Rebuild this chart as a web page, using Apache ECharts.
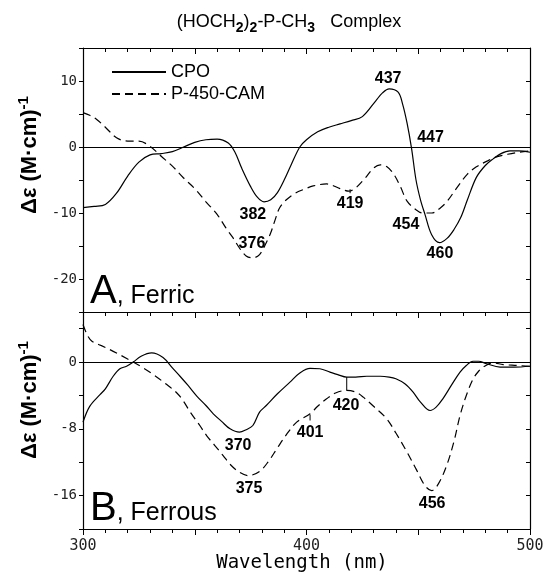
<html>
<head>
<title>CD spectra</title>
<script src="https://cdn.jsdelivr.net/npm/echarts@6/dist/echarts.min.js"></script>
<style>
body{margin:0;background:#fff;}
#chart{width:547px;height:577px;}
</style>
</head>
<body>
<div id="chart"></div>
<script>
// A, Ferric - CPO (solid)
var wlA_cpo = [300,305,310,315,320,325,330,335,340,345,350,355,360,365,368,371,375,378,381,384,387,390,393,397,400,405,410,415,420,425,431,434,437,441,443,445,447,449,451,453,456,459.5,463,466,469,472,476,480,483.5,487,491,495,500];
var deA_cpo = [-9.2,-9.0,-8.7,-7.0,-4.4,-2.3,-1.2,-1.0,-0.7,0,0.7,1.1,1.2,0.6,-0.8,-3.2,-6.0,-7.6,-8.3,-8.0,-6.9,-5.0,-2.8,0,1.1,2.3,3.0,3.5,4.0,4.6,7.0,8.2,8.8,8.3,6.5,3.6,-0.2,-5.0,-8.0,-10.2,-13.3,-14.5,-13.8,-12.5,-10.7,-8.0,-4.6,-2.8,-1.8,-1.0,-0.6,-0.6,-0.8];
// A, Ferric - P-450-CAM (dashed)
var wlA_p450 = [300,303,306,310,315,320,325,330,335,340,345,350,355,360,364,367,370,373,376,379,382,384,386,388,391,395,399,403,409,415,419,422,426,430,433,436,439,442,445,449,452,456,460,463,467,472,476,481,485,490,495,500];
var deA_p450 = [5.2,4.8,4.2,3.0,1.4,0.9,0.9,0.1,-1.4,-2.9,-4.7,-6.3,-8.3,-10.2,-12.3,-13.7,-15.3,-16.5,-16.8,-16.3,-14.5,-13.0,-11.0,-9.2,-8.0,-7.0,-6.4,-5.9,-5.6,-6.3,-6.7,-6.2,-4.8,-3.2,-2.7,-3.0,-4.1,-6.0,-8.2,-9.5,-10.0,-10.0,-9.2,-8.2,-6.3,-4.1,-3.0,-2.1,-1.5,-1.1,-0.8,-0.6];
// B, Ferrous - CPO (solid)
var wlB_cpo = [300,303,307.6,310,313.5,316.5,319.5,322.5,326,330.7,335.8,340,343.4,347,351,355,358.3,362,365.8,370,373,376,379,382,387,392.6,397,401.6,406,410.5,414,418,422,427,433,437,440,444,447.7,451,455.3,458,461,465,468.7,471.5,474.5,477,480.6,486.6,493,500];
var deB_cpo = [-7.2,-5.3,-3.9,-3.2,-1.7,-0.8,-0.5,0,0.7,1.1,0.55,-0.7,-1.7,-2.8,-4.1,-5.2,-6.2,-7.1,-8.0,-8.4,-8.1,-7.6,-6.0,-5.2,-3.8,-2.4,-1.3,-0.75,-0.8,-1.2,-1.5,-1.8,-1.8,-1.7,-1.7,-1.8,-2.0,-2.6,-3.6,-4.8,-5.8,-5.4,-4.4,-2.7,-1.2,-0.4,0.1,0.1,-0.2,-0.6,-0.6,-0.5];
// B, Ferrous - P-450-CAM (dashed)
var wlB_p450 = [300,302,304,308,312,317,322.5,327,331.5,337,342,345,348,352,355.3,359,362.7,366,370,374,379,383,386.7,391,395.6,401.6,405,409,413,418,422,425.4,430,435.9,440,444.8,449,453,456,459,462.7,466,468.7,471.5,474.6,477,479,483.5,488,494,500];
var deB_p450 = [4.5,3.2,2.5,2.0,1.5,0.8,0,-0.7,-1.5,-2.6,-3.7,-4.7,-6.0,-7.5,-8.8,-10.0,-11.2,-12.3,-13.2,-13.6,-13.1,-11.9,-10.4,-8.7,-7.2,-6.2,-5.3,-4.4,-3.7,-3.4,-3.6,-4.2,-5.3,-6.8,-8.5,-10.7,-12.8,-14.8,-15.4,-14.6,-12.4,-9.5,-6.4,-4.0,-2.0,-1.1,-0.6,-0.1,-0.3,-0.4,-0.5];

// peak labels [wavelength, value, text]
var notesA = [[436.5,10.3,'437'],[455.5,1.4,'447'],[419.5,-8.6,'419'],[444.5,-11.7,'454'],[459.7,-16.2,'460'],[376,-10.2,'382'],[375.6,-14.7,'376']];
var notesB = [[369.4,-10.0,'370'],[374.3,-15.2,'375'],[401.6,-8.5,'401'],[417.7,-5.2,'420'],[456.2,-17.0,'456']];
// leader ticks [wavelength, from, to]
var leadA = [[419.5,-6.4,-7.0]];
var leadB = [[418,-1.8,-3.4],[401.6,-6.3,-7.0]];

var xTicks = [300, 400, 500];

function zip(xs, ys) {
  return xs.map(function (x, i) { return [x, ys[i]]; });
}

var chart = echarts.init(document.getElementById('chart'));
var mono = 'DejaVu Sans Mono';
var sans = 'Liberation Sans';
var ink = '#000';

function xAx(grid, pos, opt) {
  return Object.assign({
    type: 'value', gridIndex: grid, position: pos, min: 300, max: 500, interval: 50,
    axisLine: {show: true, onZero: false, lineStyle: {color: ink, width: 1.2}},
    axisTick: {show: true, inside: true, length: 6, lineStyle: {color: ink}},
    minorTick: {show: true, splitNumber: 5, length: 4, lineStyle: {color: ink}},
    axisLabel: {show: false},
    splitLine: {show: false}
  }, opt || {});
}
function yAx(grid, pos, min, max, step, every, opt) {
  return Object.assign({
    type: 'value', gridIndex: grid, position: pos, min: min, max: max, interval: step,
    axisLine: {show: true, onZero: false, lineStyle: {color: ink, width: 1.2}},
    axisTick: {show: true, inside: pos == 'right', length: 4, lineStyle: {color: ink}},
    axisLabel: {show: pos == 'left', margin: 6, color: '#222', fontFamily: mono, fontSize: 14,
      formatter: function (v) { return v % every === 0 ? String(v) : ''; }},
    splitLine: {show: false}
  }, opt || {});
}

function curve(name, data, xi, yi, dashed) {
  return {
    name: name, type: 'line', data: data, xAxisIndex: xi, yAxisIndex: yi,
    smooth: 0.35, symbol: 'none', silent: true,
    itemStyle: {color: ink},
    lineStyle: {color: ink, width: 1.2, type: dashed ? [8, 5] : 'solid'}
  };
}
function notes(list, xi, yi) {
  return {
    type: 'scatter', data: list, xAxisIndex: xi, yAxisIndex: yi, symbolSize: 0,
    itemStyle: {color: ink, opacity: 1}, silent: true,
    label: {show: true, position: 'inside', color: ink, fontFamily: sans, fontWeight: 'bold', fontSize: 16,
      formatter: function (p) { return p.data[2]; }}
  };
}
function leaders(list, xi, yi) {
  return list.map(function (l) {
    return {type: 'line', data: [[l[0], l[1]], [l[0], l[2]]], xAxisIndex: xi, yAxisIndex: yi,
      symbol: 'none', silent: true, lineStyle: {color: ink, width: 1}};
  });
}
var zeroLine = {silent: true, symbol: 'none', label: {show: false},
  lineStyle: {color: ink, width: 1.2, type: 'solid'}, data: [{yAxis: 0}]};

var sA = curve('CPO', zip(wlA_cpo, deA_cpo), 0, 0, false);
sA.markLine = zeroLine;
var sB = curve('CPO', zip(wlB_cpo, deB_cpo), 2, 2, false);
sB.markLine = zeroLine;

var yLabel = {
  text: 'Δε (M·cm){p|-1}', textAlign: 'center', textVerticalAlign: 'middle',
  fontFamily: sans, fontSize: 22, fontWeight: 'bold', fill: ink,
  rich: {p: {fontFamily: sans, fontSize: 15, fontWeight: 'bold', fill: ink, padding: [0, 0, 13, 0]}}
};

var option = {
  backgroundColor: '#fff',
  animation: false,
  grid: [
    {left: 83, right: 17, top: 48, height: 264},
    {left: 83, right: 17, top: 312, height: 217}
  ],
  xAxis: [
    xAx(0, 'bottom', {axisTick: {show: false}, minorTick: {show: false}}),
    xAx(0, 'top'),
    xAx(1, 'bottom', {
      axisTick: {show: true, inside: false, length: 6, lineStyle: {color: ink}},
      axisLabel: {show: true, margin: 10, color: '#222', fontFamily: mono, fontSize: 15,
        formatter: function (v) { return xTicks.indexOf(v) >= 0 ? String(v) : ''; }}
    }),
    xAx(1, 'top')
  ],
  yAxis: [
    yAx(0, 'left', -25, 15, 5, 10),
    yAx(0, 'right', -25, 15, 5, 10),
    yAx(1, 'left', -20, 6, 4, 8),
    yAx(1, 'right', -20, 6, 4, 8)
  ],
  legend: {
    orient: 'vertical', left: 106, top: 58, itemWidth: 54, itemHeight: 12, itemGap: 4,
    itemStyle: {opacity: 0},
    textStyle: {fontFamily: sans, fontSize: 18, color: ink},
    data: ['CPO', 'P-450-CAM']
  },
  series: [
    sA,
    curve('P-450-CAM', zip(wlA_p450, deA_p450), 0, 0, true),
    sB,
    curve('P-450-CAM', zip(wlB_p450, deB_p450), 2, 2, true),
    notes(notesA, 0, 0),
    notes(notesB, 2, 2)
  ].concat(leaders(leadA, 0, 0), leaders(leadB, 2, 2)),
  graphic: [
    {type: 'text', x: 289, y: 22, style: {
      text: '(HOCH{s|2}){s|2}-P-CH{s|3}   Complex', textAlign: 'center', textVerticalAlign: 'middle',
      fontFamily: sans, fontSize: 18, fill: ink,
      rich: {s: {fontFamily: sans, fontSize: 14, fontWeight: 'bold', fill: ink, padding: [12, 0, 0, 0]}}
    }},
    {type: 'text', x: 30, y: 155, rotation: Math.PI / 2, style: yLabel},
    {type: 'text', x: 30, y: 400, rotation: Math.PI / 2, style: yLabel},
    {type: 'text', x: 90, y: 312, style: {
      text: '{a|A}{b|, Ferric}', textAlign: 'left', textVerticalAlign: 'bottom',
      rich: {a: {fontFamily: sans, fontSize: 40, fill: ink, verticalAlign: 'bottom'},
             b: {fontFamily: sans, fontSize: 25, fill: ink, verticalAlign: 'bottom', padding: [0, 0, 3, 0]}}
    }},
    {type: 'text', x: 90, y: 529, style: {
      text: '{a|B}{b|, Ferrous}', textAlign: 'left', textVerticalAlign: 'bottom',
      rich: {a: {fontFamily: sans, fontSize: 40, fill: ink, verticalAlign: 'bottom'},
             b: {fontFamily: sans, fontSize: 25, fill: ink, verticalAlign: 'bottom', padding: [0, 0, 3, 0]}}
    }},
    {type: 'text', x: 302, y: 563, style: {
      text: 'Wavelength (nm)', textAlign: 'center', textVerticalAlign: 'middle',
      fontFamily: mono, fontSize: 19, fill: ink
    }}
  ]
};
chart.setOption(option);
</script>
</body>
</html>
